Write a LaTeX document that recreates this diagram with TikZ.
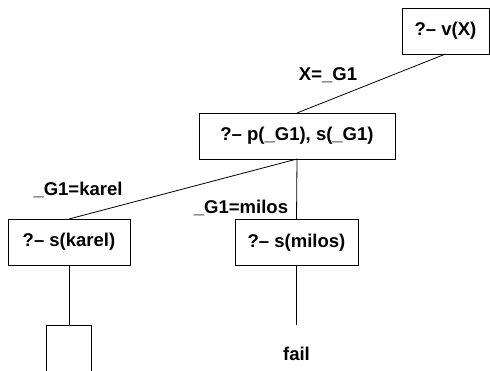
\documentclass[tikz,border=0pt]{standalone}
\usepackage{fontspec}
\setmainfont{Liberation Sans}
\usetikzlibrary{positioning}

\begin{document}
\begin{tikzpicture}[
        x=1pt, y=-1pt,
        font=\fontsize{18.5}{22}\selectfont\bfseries,
        goal/.style={draw, line width=0.8pt, minimum height=46pt, inner sep=0pt, outer sep=0pt},
        lbl/.style={inner sep=0pt},
        arc/.style={line width=0.8pt}
    ]
    \clip (0,0) rectangle (490,370);

    % goals
    \node[goal, minimum width=87pt]  (v)     at (445.5,31)  {?-- v(X)};
    \node[goal, minimum width=196pt] (p)     at (297,136)   {?-- p(\_G1), s(\_G1)};
    \node[goal, minimum width=122pt] (karel) at (69,242)    {?-- s(karel)};
    \node[goal, minimum width=123pt] (milos) at (296.5,242.5) {?-- s(milos)};
    \node[goal, minimum width=45pt, minimum height=70pt, anchor=north] (leaf) at (69,325) {};
    \node[lbl] (fail) at (296.5,354) {fail};
    \coordinate (failend) at (296.5,325);

    % bindings
    \node[lbl] (b1) at (328,75)  {X=\_G1};
    \node[lbl] (b2) at (78,190)  {\_G1=karel};
    \node[lbl] (b3) at (241,208) {\_G1=milos};

    \draw[arc] (v.south) -- (p.north);
    \draw[arc] (p.south) -- (karel.north);
    \draw[arc] (p.south) -- (milos.north);
    \draw[arc] (karel.south) -- (leaf.north);
    \draw[arc] (milos.south) -- (failend);
\end{tikzpicture}
\end{document}
